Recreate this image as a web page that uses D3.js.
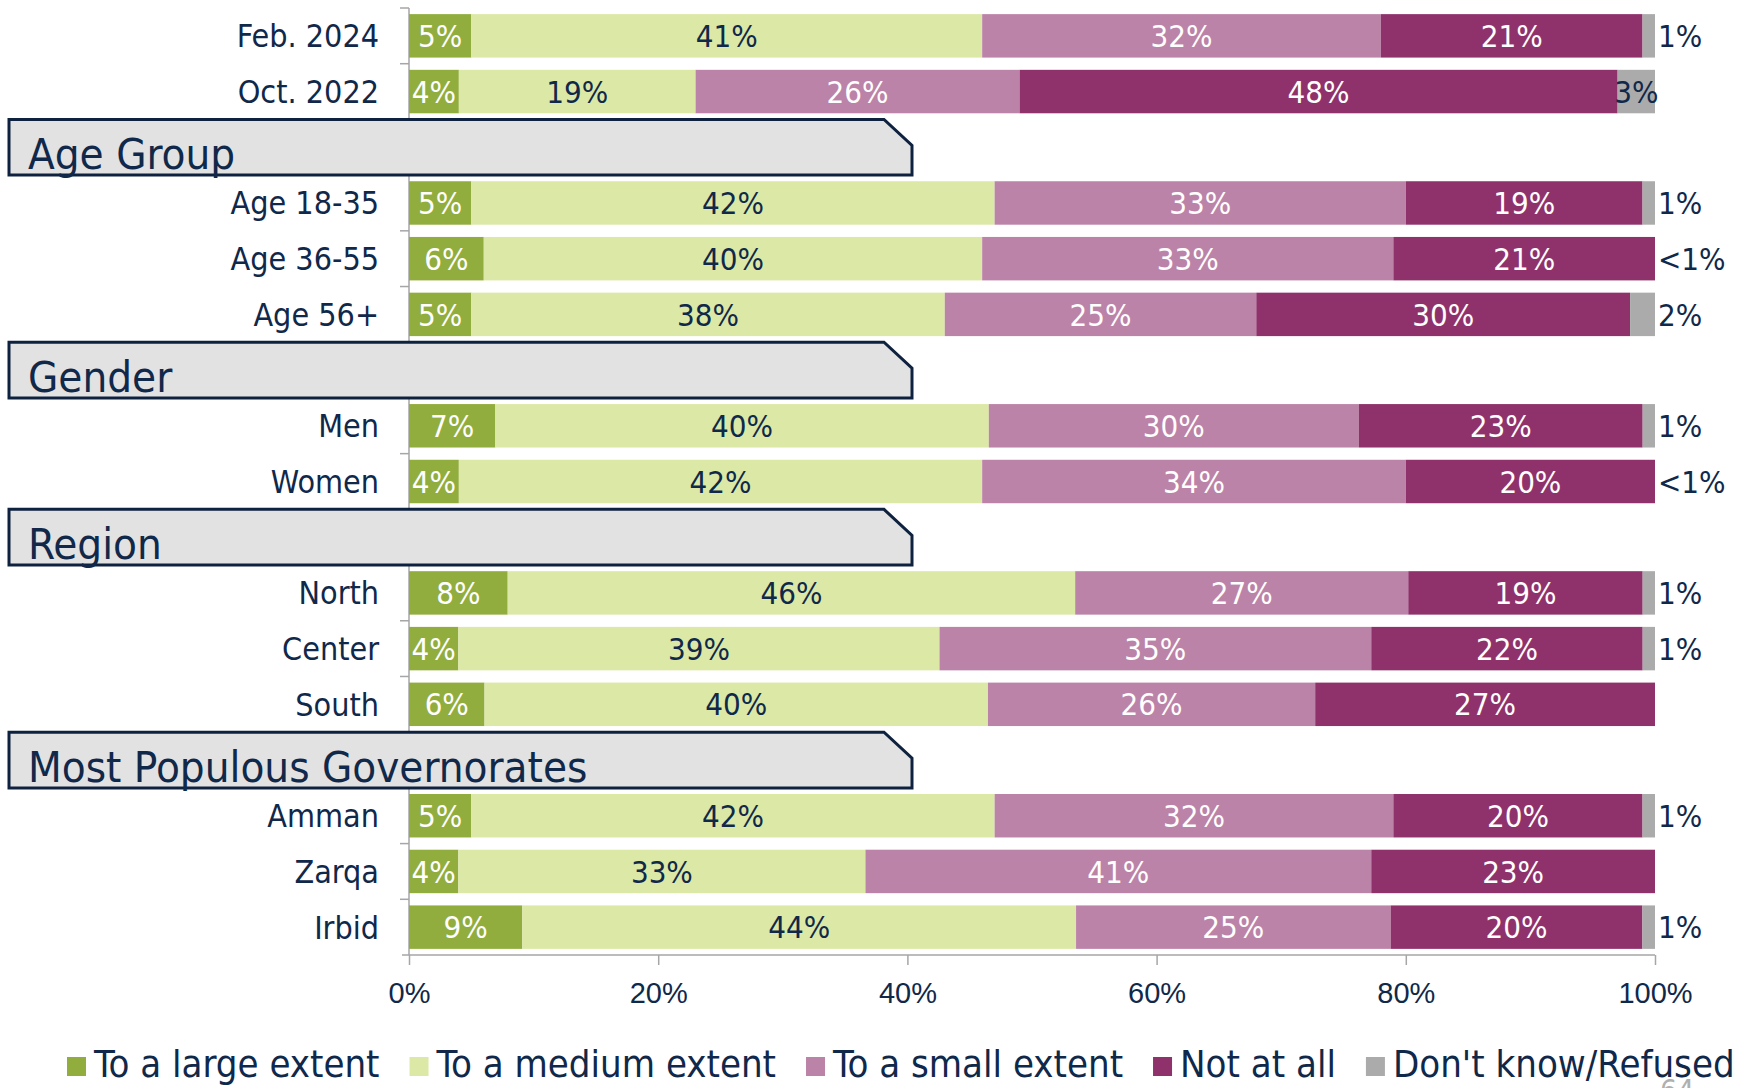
<!DOCTYPE html>
<html>
<head>
<meta charset="utf-8">
<script src="https://cdn.jsdelivr.net/npm/d3@7"></script>
<style>
  body { margin: 0; background: #fff; }
  svg { display: block; font-family: "DejaVu Sans Condensed", "DejaVu Sans", sans-serif; font-stretch: condensed; }
</style>
</head>
<body>
<svg id="chart" width="1748" height="1088"></svg>
<script>
// rows in top-to-bottom order, section headers take a slot of their own
const slots = ["Feb. 2024", "Oct. 2022", "Age Group", "Age 18-35", "Age 36-55", "Age 56+",
  "Gender", "Men", "Women", "Region", "North", "Center", "South",
  "Most Populous Governorates", "Amman", "Zarqa", "Irbid"];
const headers = ["Age Group", "Gender", "Region", "Most Populous Governorates"];

const rowNames = ["Feb. 2024", "Oct. 2022", "Age 18-35", "Age 36-55", "Age 56+", "Men", "Women",
  "North", "Center", "South", "Amman", "Zarqa", "Irbid"];
const largeExtent  = [5, 4, 5, 6, 5, 7, 4, 8, 4, 6, 5, 4, 9];
const mediumExtent = [41, 19, 42, 40, 38, 40, 42, 46, 39, 40, 42, 33, 44];
const smallExtent  = [32, 26, 33, 33, 25, 30, 34, 27, 35, 26, 32, 41, 25];
const notAtAll     = [21, 48, 19, 21, 30, 23, 20, 19, 22, 27, 20, 23, 20];
const dontKnow     = [1, 3, 1, 0, 2, 1, 0, 1, 1, 0, 1, 0, 1];
const dontKnowText = ["1%", "3%", "1%", "<1%", "2%", "1%", "<1%", "1%", "1%", "", "1%", "", "1%"];

const seriesKeys = ["large", "medium", "small", "none", "dk"];
const seriesNames = ["To a large extent", "To a medium extent", "To a small extent", "Not at all", "Don't know/Refused"];
const xTicks = [0, 0.2, 0.4, 0.6, 0.8, 1];

const colors = { large: "#91ad3d", medium: "#dce8a6", small: "#bc83a8", none: "#8f326c", dk: "#ababab" };
const labelColors = { large: "#fff", medium: "#10284a", small: "#fff", none: "#fff", dk: "#10284a" };
const navy = "#10284a";
const axisGrey = "#a6a6a6";

const rows = rowNames.map((name, i) => ({
  name,
  large: largeExtent[i], medium: mediumExtent[i], small: smallExtent[i],
  none: notAtAll[i], dk: dontKnow[i], dkText: dontKnowText[i]
}));

const svg = d3.select("#chart");

const x = d3.scaleLinear().domain([0, 1]).range([409, 1655]);
const y = d3.scaleBand().domain(slots).range([8, 955]).paddingInner(0.22).paddingOuter(0.11);
const pad = y.step() * 0.11;

const stack = d3.stack().keys(seriesKeys).offset(d3.stackOffsetExpand);
const series = stack(rows);

// y axis line with small ticks on slot boundaries
svg.append("line")
  .attr("x1", x(0)).attr("x2", x(0))
  .attr("y1", y(slots[0]) - pad).attr("y2", y(slots[slots.length - 1]) + y.bandwidth() + pad)
  .attr("stroke", axisGrey).attr("stroke-width", 1.5);
svg.append("g").selectAll("line")
  .data(slots)
  .join("line")
  .attr("x1", x(0) - 9).attr("x2", x(0))
  .attr("y1", d => y(d) - pad).attr("y2", d => y(d) - pad)
  .attr("stroke", axisGrey).attr("stroke-width", 1.5);

// bars
const layer = svg.append("g").selectAll("g")
  .data(series)
  .join("g")
  .attr("fill", s => colors[s.key]);

layer.selectAll("rect")
  .data(s => s.map(d => ({ key: s.key, d })))
  .join("rect")
  .attr("x", v => x(v.d[0]))
  .attr("y", v => y(v.d.data.name))
  .attr("width", v => Math.max(0, x(v.d[1]) - x(v.d[0])))
  .attr("height", y.bandwidth());

// segment labels
const labelData = [];
series.forEach(s => s.forEach(d => {
  const row = d.data;
  if (s.key === "dk") {
    if (!row.dkText) return;
    const inside = row.dk >= 3;
    labelData.push({
      text: row.dkText, key: s.key,
      x: inside ? (x(d[0]) + x(d[1])) / 2 : x(1) + 3,
      anchor: inside ? "middle" : "start",
      y: y(row.name) + y.bandwidth() / 2
    });
  } else {
    labelData.push({
      text: row[s.key] + "%", key: s.key,
      x: (x(d[0]) + x(d[1])) / 2, anchor: "middle",
      y: y(row.name) + y.bandwidth() / 2
    });
  }
}));

svg.append("g").selectAll("text")
  .data(labelData)
  .join("text")
  .attr("x", d => d.x)
  .attr("y", d => d.y)
  .attr("dy", "0.36em")
  .attr("text-anchor", d => d.anchor)
  .attr("font-size", 31)
  .attr("fill", d => d.key === "dk" && d.anchor === "start" ? navy : labelColors[d.key])
  .text(d => d.text);

// category labels
svg.append("g").selectAll("text")
  .data(rowNames)
  .join("text")
  .attr("x", 379)
  .attr("y", d => y(d) + y.bandwidth() / 2)
  .attr("dy", "0.36em")
  .attr("text-anchor", "end")
  .attr("font-size", 32)
  .attr("fill", navy)
  .text(d => d);

// section header tabs
const tab = svg.append("g").selectAll("g")
  .data(headers)
  .join("g");
tab.append("path")
  .attr("d", h => {
    const t = y(h) - pad, b = y(h) + y.bandwidth() + pad;
    return `M9,${t} L884,${t} L912,${t + 26} L912,${b} L9,${b} Z`;
  })
  .attr("fill", "#e2e2e2")
  .attr("stroke", "#0e223f")
  .attr("stroke-width", 3);
tab.append("text")
  .attr("x", 28)
  .attr("y", h => y(h) + y.bandwidth() + pad - 6)
  .attr("font-size", 43.5)
  .attr("fill", navy)
  .text(h => h);

// bottom axis
const xAxis = svg.append("g")
  .attr("transform", `translate(0,955)`)
  .call(d3.axisBottom(x).tickValues(xTicks).tickFormat(d3.format(".0%")).tickSize(10).tickPadding(17));
xAxis.select(".domain").attr("stroke", axisGrey).attr("stroke-width", 1.5).attr("d", `M${x(0) - 7},0H${x(1)}`);
xAxis.selectAll(".tick line").attr("stroke", axisGrey).attr("stroke-width", 1.5);
xAxis.selectAll(".tick text")
  .attr("font-family", "inherit")
  .attr("font-size", 29)
  .attr("fill", navy);

// legend
const legend = svg.append("g").attr("transform", "translate(67,1063)");
let lx = 0;
seriesKeys.forEach((k, i) => {
  const item = legend.append("g").attr("transform", `translate(${lx},0)`);
  item.append("rect")
    .attr("x", 0).attr("y", -6).attr("width", 19).attr("height", 19)
    .attr("fill", colors[k]);
  const t = item.append("text")
    .attr("x", 27).attr("y", 0).attr("dy", "0.36em")
    .attr("font-size", 38)
    .attr("fill", navy)
    .text(seriesNames[i]);
  lx += 27 + t.node().getComputedTextLength() + 30;
});

// slide number peeking from the bottom edge
svg.append("text")
  .attr("x", 1660).attr("y", 1101)
  .attr("font-size", 30)
  .attr("fill", "#b0b0b0")
  .text("64");
</script>
</body>
</html>
